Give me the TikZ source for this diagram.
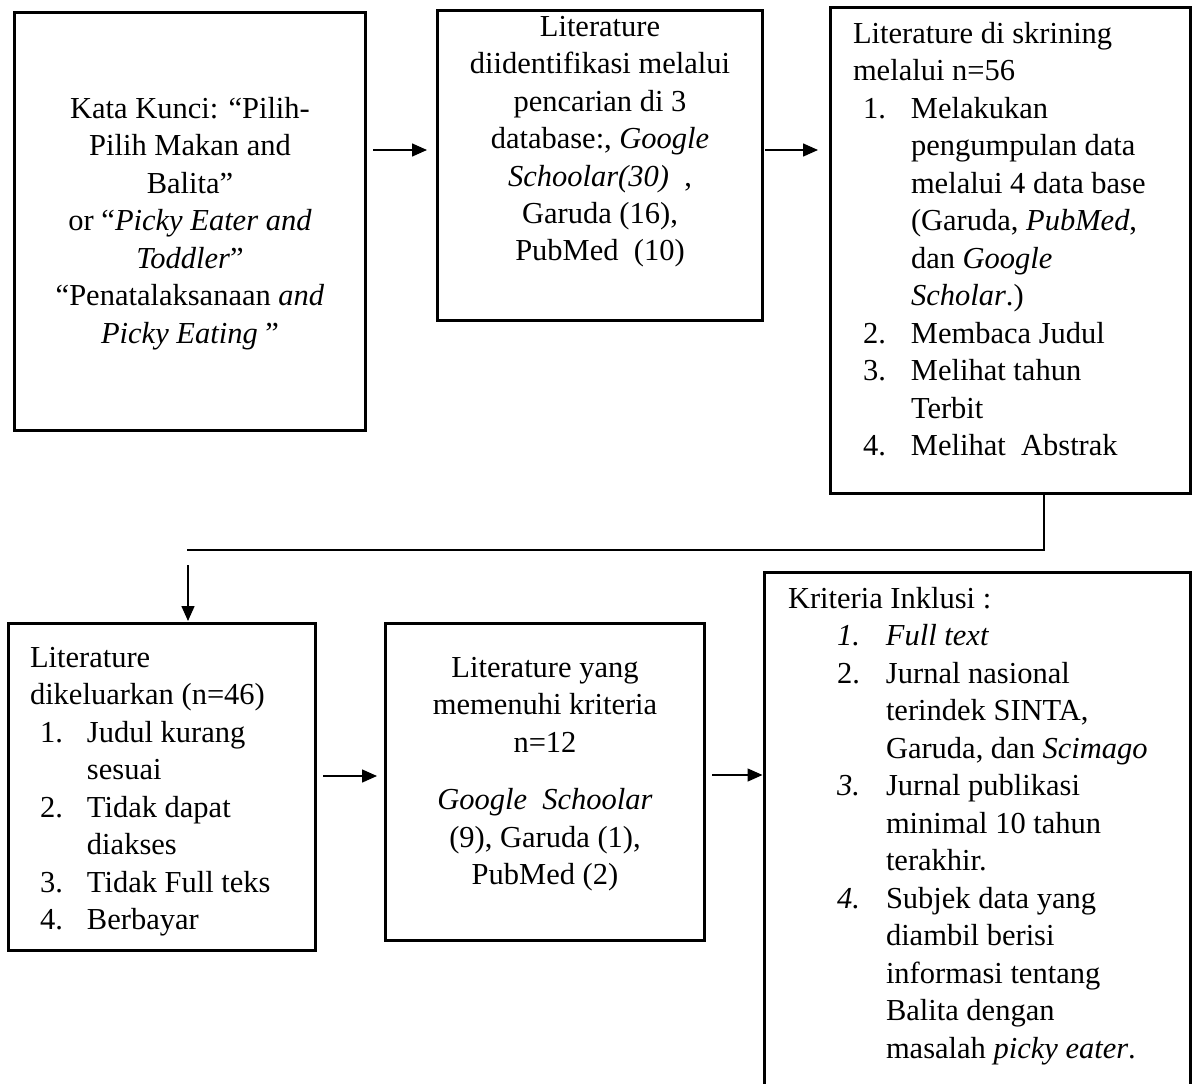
\documentclass[tikz,border=0pt]{standalone}
\usepackage{fontspec}
\setmainfont{Liberation Serif}
\usetikzlibrary{arrows.meta}
\newcommand{\itm}[3]{\hspace*{#1}\makebox[#2][l]{#3}}
\newcommand{\cont}[1]{\hspace*{#1}}
\tikzset{
  box/.style={draw, line width=3pt, inner sep=0pt, outer sep=0pt},
  arr/.style={line width=1.5pt, -{Triangle[length=15pt,width=13pt]}},
  conn/.style={line width=1.2pt},
  txt/.style={inner sep=0pt, outer sep=0pt, font=\fontsize{30.5}{37.5}\selectfont},
}
\begin{document}
\begin{tikzpicture}[x=1pt,y=-1pt]
\useasboundingbox (0,0) rectangle (1194,1084);
\clip (0,0) rectangle (1194,1084);
% boxes
\node[box, minimum width=351pt, minimum height=418pt] (b1) at (189.5,221) {};
\node[box, minimum width=325pt, minimum height=310pt] (b2) at (599.5,165) {};
\node[box, minimum width=360pt, minimum height=486pt] (b3) at (1010,250) {};
\node[box, minimum width=307pt, minimum height=327pt] (b4) at (161.5,786.5) {};
\node[box, minimum width=319pt, minimum height=317pt] (b5) at (544.5,781.5) {};
\node[box, minimum width=426pt, minimum height=568pt] (b6) at (977,856) {};
% texts
\node[txt, anchor=base] (t1) at (190,118) {\parbox[t]{345pt}{\centering
Kata Kunci: “Pilih-\\
Pilih Makan and\\
Balita”\\
or “\textit{Picky Eater and}\\
\textit{Toddler}”\\
“Penatalaksanaan \textit{and}\\
\textit{Picky Eating} ”}};
\node[txt, anchor=base] (t2) at (600,36) {\parbox[t]{320pt}{\centering
Literature\\
diidentifikasi melalui\\
pencarian di 3\\
database:, \textit{Google}\\
\textit{Schoolar(30)}\ \ ,\\
Garuda (16),\\
PubMed\ \ (10)}};
\node[txt, anchor=base west] (t3) at (853,43) {\parbox[t]{340pt}{\raggedright
Literature di skrining\\
melalui n=56\\
\itm{10pt}{48pt}{1.}Melakukan\\
\cont{58pt}pengumpulan data\\
\cont{58pt}melalui 4 data base\\
\cont{58pt}(Garuda, \textit{PubMed},\\
\cont{58pt}dan \textit{Google}\\
\cont{58pt}\textit{Scholar}.)\\
\itm{10pt}{48pt}{2.}Membaca Judul\\
\itm{10pt}{48pt}{3.}Melihat tahun\\
\cont{58pt}Terbit\\
\itm{10pt}{48pt}{4.}Melihat\ \ Abstrak}};
\node[txt, anchor=base west] (t4) at (30,667) {\parbox[t]{300pt}{\raggedright
Literature\\
dikeluarkan (n=46)\\
\itm{10pt}{47pt}{1.}Judul kurang\\
\cont{57pt}sesuai\\
\itm{10pt}{47pt}{2.}Tidak dapat\\
\cont{57pt}diakses\\
\itm{10pt}{47pt}{3.}Tidak Full teks\\
\itm{10pt}{47pt}{4.}Berbayar}};
\node[txt, anchor=base] (t5) at (545,677) {\parbox[t]{310pt}{\centering
Literature yang\\
memenuhi kriteria\\
n=12\\[20pt]
\textit{Google\ \ Schoolar}\\
(9), Garuda (1),\\
PubMed (2)}};
\node[txt, anchor=base west] (t6) at (788,608) {\parbox[t]{400pt}{\raggedright
Kriteria Inklusi :\\
\itm{49pt}{49pt}{\textit{1.}}\textit{Full text}\\
\itm{49pt}{49pt}{2.}Jurnal nasional\\
\cont{98pt}terindek SINTA,\\
\cont{98pt}Garuda,\ dan \textit{Scimago}\\
\itm{49pt}{49pt}{\textit{3.}}Jurnal publikasi\\
\cont{98pt}minimal 10 tahun\\
\cont{98pt}terakhir.\\
\itm{49pt}{49pt}{\textit{4.}}Subjek data yang\\
\cont{98pt}diambil berisi\\
\cont{98pt}informasi tentang\\
\cont{98pt}Balita dengan\\
\cont{98pt}masalah \textit{picky eater}.}};
% connectors
\draw[arr, shorten <=8pt, shorten >=10pt] (b1.east |- 0,150) -- (b2.west |- 0,150);
\draw[arr, shorten <=3pt, shorten >=12pt] (b2.east |- 0,150) -- (b3.west |- 0,150);
\coordinate (jl) at (187,550);
\draw[conn] (b3.south -| 1044,0) |- (jl);
\coordinate (dtop) at (188,565);
\draw[arr, shorten >=2pt] (dtop) -- (dtop |- b4.north);
\draw[arr, shorten <=8pt, shorten >=8pt] (b4.east |- 0,776) -- (b5.west |- 0,776);
\draw[arr, shorten <=8pt, shorten >=1.5pt] (b5.east |- 0,775) -- (b6.west |- 0,775);
\end{tikzpicture}
\end{document}
